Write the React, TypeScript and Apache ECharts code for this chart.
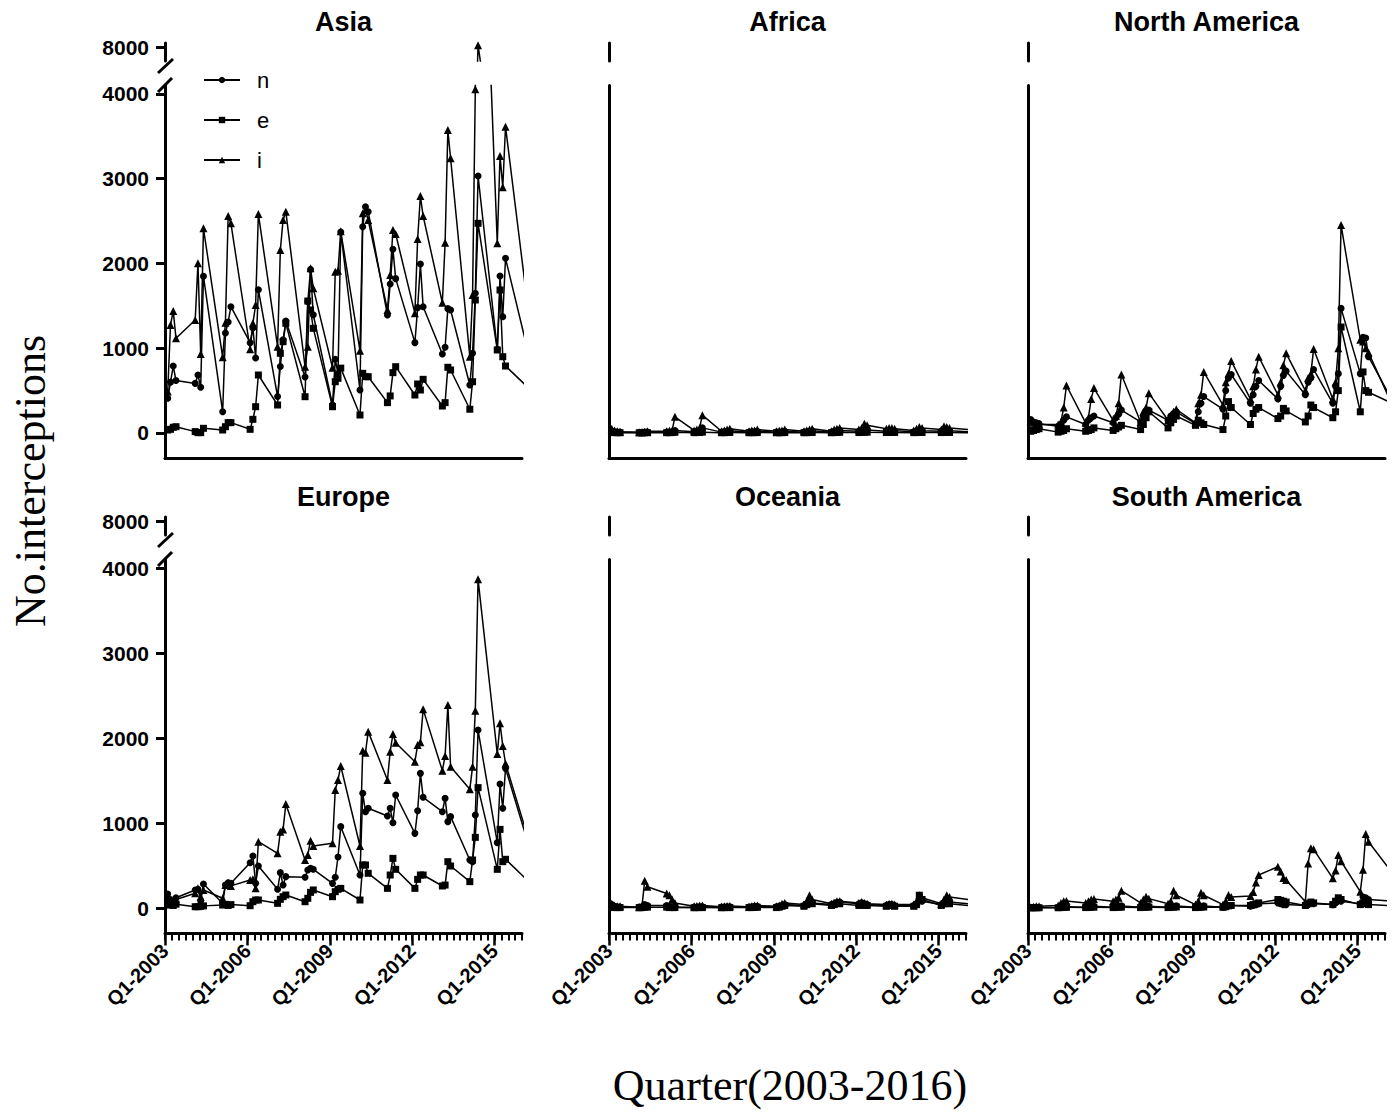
import React, { useEffect, useRef } from "react";
import * as echarts from "echarts";

// Quarters: 13 years (2003-2015) x 4 quarters + Q1-2016 (drawn clipped at the right edge)
const years = [2003, 2004, 2005, 2006, 2007, 2008, 2009, 2010, 2011, 2012, 2013, 2014, 2015, 2016];
const seriesNames = ["n", "e", "i"];
const majorTicks = [0, 12, 24, 36, 48];
const yTicks = [0, 1000, 2000, 3000, 4000];
const yBreakTicks = [8000];

const asiaN = [410, 600, 790, 620, 585, 684, 540, 1850, 250, 1180, 1310, 1490, 1065, 1240, 885, 1690, 430, 785, 1100, 1320, 660, 1550, 1930, 1395, 330, 870, 700, 2370, 507, 2434, 2670, 2611, 1392, 1758, 2167, 1821, 1066, 1479, 1994, 1490, 932, 1011, 1467, 1451, 566, 940, 1648, 3032, 988, 1852, 1372, 2061, 1119];
const asiaE = [35, 43, 67, 74, 16, 4, 4, 55, 35, 74, 122, 122, 43, 161, 310, 684, 330, 940, 1077, 1294, 428, 1557, 1451, 1235, 310, 605, 645, 765, 212, 704, 664, 664, 358, 437, 712, 782, 448, 578, 507, 633, 318, 358, 775, 743, 280, 605, 1569, 2474, 979, 1687, 900, 790, 574];
const asiaI = [488, 1274, 1440, 1117, 1333, 2002, 932, 2415, 893, 1302, 2561, 2474, 988, 1294, 1510, 2584, 1018, 2159, 2513, 2611, 782, 1018, 1943, 1707, 770, 1903, 1915, 2380, 971, 2592, 2631, 2513, 1451, 1864, 2395, 2348, 1412, 2289, 2796, 2560, 1537, 2245, 3575, 3241, 900, 1628, 4055, 8100, 2238, 3268, 2899, 3614, 1779];

const africaN = [20, 15, 10, 10, 5, 8, 10, 12, 10, 12, 15, 30, 15, 20, 25, 60, 10, 15, 20, 25, 10, 15, 15, 20, 10, 12, 15, 20, 10, 15, 20, 25, 10, 20, 25, 30, 20, 30, 40, 35, 20, 25, 30, 25, 15, 20, 30, 25, 20, 30, 35, 25, 15];
const africaE = [5, 5, 3, 3, 2, 2, 3, 3, 3, 4, 5, 8, 4, 5, 6, 10, 3, 4, 5, 6, 3, 4, 4, 5, 3, 3, 4, 5, 3, 4, 5, 6, 3, 5, 6, 8, 5, 8, 10, 9, 5, 6, 8, 6, 4, 5, 8, 6, 5, 8, 9, 6, 4];
const africaI = [50, 30, 20, 15, 10, 10, 15, 20, 20, 25, 30, 190, 30, 40, 60, 210, 20, 30, 40, 50, 20, 30, 30, 40, 20, 25, 30, 40, 20, 30, 40, 50, 20, 40, 50, 60, 40, 60, 110, 90, 50, 60, 60, 50, 30, 50, 70, 60, 40, 80, 70, 60, 40];

const northAmericaN = [160, 130, 120, 110, 80, 100, 150, 190, 100, 150, 180, 200, 120, 180, 220, 270, 130, 200, 240, 270, 150, 200, 230, 250, 110, 250, 350, 430, 280, 500, 650, 690, 350, 450, 550, 620, 400, 550, 680, 730, 450, 600, 650, 750, 350, 550, 700, 1470, 700, 1130, 1120, 900, 480];
const northAmericaE = [20, 30, 40, 50, 10, 20, 30, 50, 20, 30, 40, 60, 30, 50, 70, 90, 40, 100, 180, 250, 60, 120, 160, 200, 90, 150, 120, 100, 40, 200, 370, 300, 100, 230, 280, 300, 170, 200, 290, 260, 130, 200, 330, 300, 180, 250, 500, 1250, 250, 720, 500, 480, 375];
const northAmericaI = [140, 120, 110, 100, 100, 130, 300, 560, 120, 180, 400, 530, 150, 200, 350, 690, 130, 250, 300, 470, 150, 200, 250, 280, 120, 350, 450, 720, 330, 600, 700, 850, 400, 550, 750, 900, 450, 600, 800, 940, 500, 650, 700, 990, 400, 600, 1000, 2455, 1100, 1080, 1000, 950, 448];

const europeN = [165, 100, 60, 120, 212, 220, 86, 282, 55, 270, 298, 290, 533, 612, 290, 494, 220, 416, 270, 369, 361, 447, 467, 455, 290, 361, 600, 957, 388, 1349, 1133, 1173, 1082, 1173, 1004, 1329, 878, 1145, 1584, 1302, 1133, 1290, 1016, 1075, 565, 545, 1094, 2094, 769, 1459, 1173, 1643, 893];
const europeE = [35, 40, 30, 45, 15, 15, 20, 25, 35, 43, 30, 40, 27, 74, 94, 94, 55, 102, 133, 153, 74, 114, 184, 212, 133, 192, 220, 231, 94, 506, 506, 408, 231, 388, 584, 455, 231, 337, 388, 388, 259, 270, 545, 494, 310, 565, 831, 1416, 455, 925, 545, 573, 357];
const europeI = [130, 60, 90, 100, 173, 231, 133, 212, 114, 270, 298, 260, 329, 337, 231, 780, 643, 898, 925, 1224, 565, 624, 792, 729, 761, 1388, 1506, 1671, 729, 1851, 1827, 2075, 1506, 1839, 2047, 1945, 1721, 1918, 1950, 2337, 1616, 1788, 2388, 1663, 1396, 1663, 2322, 3867, 1812, 2173, 1906, 1700, 953];

const oceaniaN = [40, 20, 15, 10, 10, 15, 40, 30, 30, 20, 15, 10, 10, 12, 15, 15, 10, 12, 15, 15, 10, 15, 20, 20, 15, 20, 30, 40, 30, 50, 80, 60, 40, 50, 60, 70, 50, 60, 50, 40, 30, 40, 40, 30, 30, 50, 100, 80, 40, 60, 80, 70, 50];
const oceaniaE = [10, 5, 5, 5, 5, 5, 10, 10, 10, 5, 5, 5, 3, 5, 5, 5, 3, 5, 5, 5, 5, 5, 8, 8, 5, 10, 20, 30, 20, 40, 60, 50, 30, 40, 60, 50, 30, 40, 30, 30, 20, 30, 30, 20, 20, 40, 150, 100, 30, 50, 60, 50, 30];
const oceaniaI = [50, 30, 20, 20, 10, 20, 320, 250, 170, 150, 100, 60, 20, 25, 30, 30, 15, 20, 25, 25, 15, 20, 30, 30, 20, 30, 50, 60, 40, 80, 150, 100, 50, 60, 80, 80, 60, 70, 60, 50, 40, 50, 50, 40, 40, 80, 150, 120, 50, 100, 150, 130, 100];

const southAmericaN = [5, 5, 5, 5, 5, 10, 15, 15, 10, 15, 20, 20, 10, 15, 20, 25, 10, 15, 20, 20, 10, 15, 20, 25, 10, 15, 20, 25, 10, 20, 30, 30, 20, 30, 40, 50, 60, 50, 40, 40, 30, 40, 60, 50, 40, 60, 100, 80, 50, 130, 120, 100, 85];
const southAmericaE = [3, 3, 3, 3, 3, 5, 8, 8, 5, 8, 10, 10, 5, 8, 10, 10, 5, 8, 10, 10, 5, 8, 10, 12, 5, 8, 10, 12, 8, 15, 25, 30, 30, 40, 50, 60, 100, 90, 80, 70, 30, 50, 70, 60, 40, 80, 120, 100, 40, 60, 50, 40, 30];
const southAmericaI = [10, 15, 20, 20, 30, 60, 80, 82, 60, 80, 100, 106, 80, 100, 120, 204, 60, 100, 133, 110, 50, 80, 204, 150, 40, 80, 180, 150, 40, 80, 153, 130, 140, 188, 300, 388, 486, 430, 353, 330, 74, 525, 702, 690, 349, 440, 624, 550, 192, 450, 871, 780, 482];

const regions = [
  { title: "Asia", n: asiaN, e: asiaE, i: asiaI },
  { title: "Africa", n: africaN, e: africaE, i: africaI },
  { title: "North America", n: northAmericaN, e: northAmericaE, i: northAmericaI },
  { title: "Europe", n: europeN, e: europeE, i: europeI },
  { title: "Oceania", n: oceaniaN, e: oceaniaE, i: oceaniaI },
  { title: "South America", n: southAmericaN, e: southAmericaE, i: southAmericaI },
];

// layout
const COL_LEFT = [165, 609, 1028];
const COL_W = 357;
const ROWS = [
  { mainTop: 85.5, mainH: 372.9, topTop: 43, topH: 18, titleY: 22 },
  { mainTop: 559.5, mainH: 374, topTop: 517, topH: 18, titleY: 497 },
];
const SYMBOLS: Record<string, { symbol: string; size: number }> = {
  n: { symbol: "circle", size: 7 },
  e: { symbol: "rect", size: 7 },
  i: { symbol: "triangle", size: 8 },
};
const FONT = '"Liberation Sans", Arial, sans-serif';
const SERIF = '"Liberation Serif", "Times New Roman", serif';

// plotted position of a quarter (as in the reference: clustered within each year)
const xOf = (idx: number) => Math.floor(idx / 4) * 4 + 0.4 + 0.4 * (idx % 4);

export default function App() {
  const ref = useRef<HTMLDivElement>(null);
  useEffect(() => {
    if (!ref.current) return;
    const chart = echarts.init(ref.current, null, { renderer: "svg" });
    const grid: any[] = [];
    const xAxis: any[] = [];
    const yAxis: any[] = [];
    const series: any[] = [];
    const graphic: any[] = [];

    regions.forEach((reg, p) => {
      const row = ROWS[Math.floor(p / 3)];
      const col = p % 3;
      const isBottom = p >= 3;
      const left = COL_LEFT[col];
      const gMain = grid.length;
      grid.push({ left, top: row.mainTop, width: COL_W, height: row.mainH });
      const gTop = grid.length;
      grid.push({ left, top: row.topTop, width: COL_W, height: row.topH });

      const xMinor = xAxis.length;
      xAxis.push({
        type: "value", gridIndex: gMain, min: 0, max: 52, interval: 1, position: "bottom",
        axisLine: { show: true, onZero: false, lineStyle: { color: "#000", width: 3 } },
        axisTick: { show: isBottom, length: 7, lineStyle: { color: "#000", width: 2 } },
        axisLabel: { show: false },
        splitLine: { show: false },
      });
      xAxis.push({
        type: "value", gridIndex: gMain, min: 0, max: 52, position: "bottom",
        show: isBottom,
        axisLine: { show: false, onZero: false },
        axisTick: { show: true, customValues: majorTicks, length: 12, lineStyle: { color: "#000", width: 2.5 } },
        axisLabel: {
          show: true, customValues: majorTicks, rotate: 45, margin: 14,
          fontSize: 20, fontWeight: "bold", color: "#000", fontFamily: FONT,
          formatter: (v: number) => `Q1-${years[0] + v / 4}`,
        },
        splitLine: { show: false },
      });
      const xTop = xAxis.length;
      xAxis.push({ type: "value", gridIndex: gTop, min: 0, max: 52, show: false });

      const yMain = yAxis.length;
      yAxis.push({
        type: "value", gridIndex: gMain, min: -300, max: 4100,
        axisLine: { show: true, onZero: false, lineStyle: { color: "#000", width: 3 } },
        axisTick: { show: col === 0, customValues: yTicks, length: 9, lineStyle: { color: "#000", width: 3 } },
        axisLabel: {
          show: col === 0, customValues: yTicks, margin: 16, fontSize: 21, fontWeight: "bold",
          color: "#000", fontFamily: FONT, formatter: (v: number) => String(v),
        },
        splitLine: { show: false },
      });
      const yTop = yAxis.length;
      yAxis.push({
        type: "value", gridIndex: gTop, min: 7400, max: 8200,
        axisLine: { show: true, onZero: false, lineStyle: { color: "#000", width: 3 } },
        axisTick: { show: col === 0, customValues: yBreakTicks, length: 9, lineStyle: { color: "#000", width: 3 } },
        axisLabel: {
          show: col === 0, customValues: yBreakTicks, margin: 16, fontSize: 21, fontWeight: "bold",
          color: "#000", fontFamily: FONT, formatter: (v: number) => String(v),
        },
        splitLine: { show: false },
      });

      seriesNames.forEach((s) => {
        const vals: number[] = (reg as any)[s];
        const data = vals.map((v, idx) => [xOf(idx), v]);
        const base = {
          name: s, type: "line", data, clip: true,
          symbol: SYMBOLS[s].symbol, symbolSize: SYMBOLS[s].size,
          itemStyle: { color: "#000" },
          lineStyle: { color: "#000", width: 1.5 },
          emphasis: { disabled: true },
        };
        series.push({ ...base, xAxisIndex: xMinor, yAxisIndex: yMain });
        series.push({ ...base, xAxisIndex: xTop, yAxisIndex: yTop });
      });

      graphic.push({
        type: "text", x: left + COL_W / 2, y: row.titleY,
        style: { text: reg.title, font: `bold 27px ${FONT}`, fill: "#000", align: "center", verticalAlign: "middle" },
      });
    });

    // axis break slashes (first column)
    [0, 474].forEach((dy) => {
      graphic.push({ type: "line", shape: { x1: 158, y1: 73 + dy, x2: 173, y2: 59 + dy }, style: { stroke: "#000", lineWidth: 3 } });
      graphic.push({ type: "line", shape: { x1: 158, y1: 92 + dy, x2: 172, y2: 78 + dy }, style: { stroke: "#000", lineWidth: 3 } });
    });

    graphic.push({
      type: "text", x: 30, y: 481, rotation: Math.PI / 2,
      style: { text: "No.interceptions", font: `44px ${SERIF}`, fill: "#000", align: "center", verticalAlign: "middle" },
    });
    graphic.push({
      type: "text", x: 790, y: 1085,
      style: { text: "Quarter(2003-2016)", font: `44px ${SERIF}`, fill: "#000", align: "center", verticalAlign: "middle" },
    });

    chart.setOption({
      animation: false,
      backgroundColor: "#fff",
      textStyle: { fontFamily: FONT },
      legend: {
        data: seriesNames, orient: "vertical", left: 198, top: 64,
        itemWidth: 36, itemHeight: 8, itemGap: 18, selectedMode: false,
        textStyle: { fontSize: 22, color: "#000", fontFamily: FONT, lineHeight: 22, padding: [0, 0, 0, 12] },
      },
      grid, xAxis, yAxis, series, graphic,
    });
    return () => chart.dispose();
  }, []);
  return <div ref={ref} style={{ position: "fixed", left: 0, top: 0, width: 1395, height: 1112, background: "#fff" }} />;
}
